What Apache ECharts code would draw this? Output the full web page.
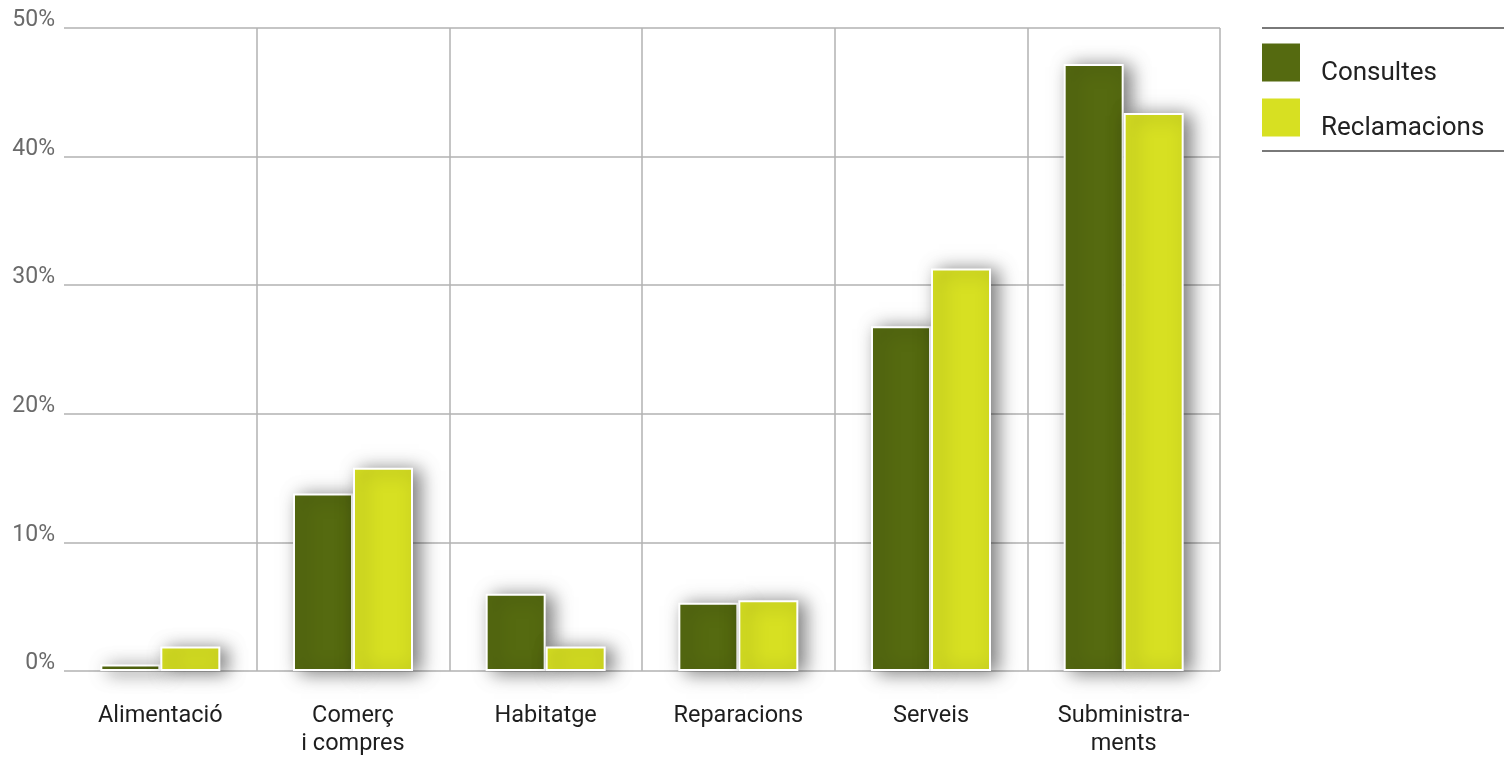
<!DOCTYPE html>
<html>
<head>
<meta charset="utf-8">
<script src="https://cdn.jsdelivr.net/npm/echarts@6/dist/echarts.min.js"></script>
<style>
  html, body { margin: 0; padding: 0; background: #fff; }
  #chart { width: 1506px; height: 763px; }
</style>
</head>
<body>
<div id="chart"></div>
<script>
// Share of consultations and complaints by sector (%)
const categories = ['Alimentació', 'Comerç\ni compres', 'Habitatge', 'Reparacions', 'Serveis', 'Subministra-\nments'];
const consultes = [0.5, 13.8, 6.0, 5.3, 26.8, 47.2];
const reclamacions = [1.9, 15.8, 1.9, 5.5, 31.3, 43.4];
const seriesNames = ['Consultes', 'Reclamacions'];
const yTicks = { min: 0, max: 50, interval: 10 };

const FONT = 'Roboto, "Noto Sans", sans-serif';
const GRID_COLOR = '#b2b2b2';
const barStyle = (color) => ({
  color: color,
  borderColor: '#ffffff',
  borderWidth: 2,
  shadowColor: 'rgba(0,0,0,0.52)',
  shadowBlur: 18,
  shadowOffsetX: 7,
  shadowOffsetY: 2
});

const chart = echarts.init(document.getElementById('chart'), null, { renderer: 'canvas' });
chart.setOption({
  animation: false,
  backgroundColor: '#ffffff',
  textStyle: { fontFamily: FONT },
  grid: { left: 64, right: 286, top: 28, bottom: 92, containLabel: false },
  legend: {
    orient: 'vertical',
    left: 1262,
    top: 39,
    padding: 0,
    itemWidth: 38,
    itemHeight: 38,
    itemGap: 8,
    icon: 'rect',
    itemStyle: { borderWidth: 0, shadowBlur: 0, shadowOffsetX: 0, shadowOffsetY: 0 },
    // an empty first line drops each name a little below its swatch
    formatter: (name) => '\n' + name,
    textStyle: { fontFamily: FONT, fontSize: 26, lineHeight: 21, color: '#222', padding: [0, 0, 0, 16] },
    data: seriesNames
  },
  xAxis: {
    type: 'category',
    data: categories,
    boundaryGap: true,
    axisLine: { show: false },
    axisTick: { show: false },
    axisLabel: {
      fontFamily: FONT, fontSize: 23.5, color: '#1e1e1e',
      margin: 31, lineHeight: 28, interval: 0
    },
    splitLine: {
      show: true,
      lineStyle: {
        color: ['rgba(0,0,0,0)', GRID_COLOR, GRID_COLOR, GRID_COLOR, GRID_COLOR, GRID_COLOR, GRID_COLOR],
        width: 1.5
      }
    }
  },
  yAxis: {
    type: 'value',
    min: yTicks.min,
    max: yTicks.max,
    interval: yTicks.interval,
    axisLine: { show: false },
    axisTick: { show: false },
    axisLabel: {
      formatter: '{value}%',
      fontFamily: FONT, fontSize: 23, color: '#6a6a6a',
      margin: 9, verticalAlign: 'bottom', lineHeight: 15
    },
    splitLine: { show: true, lineStyle: { color: GRID_COLOR, width: 1.5 } }
  },
  graphic: [
    { type: 'line', shape: { x1: 1262, y1: 28, x2: 1504, y2: 28 }, style: { stroke: '#4d4d4d', lineWidth: 1.5 } },
    { type: 'line', shape: { x1: 1262, y1: 151, x2: 1504, y2: 151 }, style: { stroke: '#4d4d4d', lineWidth: 1.5 } }
  ],
  series: [
    {
      name: seriesNames[0], type: 'bar', data: consultes,
      barWidth: 60, barGap: '0%',
      itemStyle: barStyle('#556a10')
    },
    {
      name: seriesNames[1], type: 'bar', data: reclamacions,
      barWidth: 60, barGap: '0%',
      itemStyle: barStyle('#d7e022')
    }
  ]
});
</script>
</body>
</html>
